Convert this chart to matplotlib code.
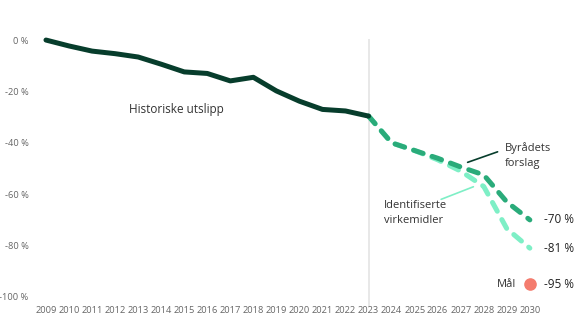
import matplotlib
matplotlib.use("Agg")
import matplotlib.pyplot as plt

plt.rcParams["font.family"] = ["Open Sans", "DejaVu Sans"]

# historical emissions, change vs 2009 (%)
hist_years = [2009, 2010, 2011, 2012, 2013, 2014, 2015, 2016, 2017, 2018,
              2019, 2020, 2021, 2022, 2023]
hist_vals = [0, -2.3, -4.3, -5.3, -6.6, -9.4, -12.4, -13.0, -15.9, -14.5,
             -19.8, -23.8, -27.0, -27.6, -29.6]

# projections
proj_years = [2023, 2024, 2025, 2026, 2027, 2028, 2029, 2030]
byradet_vals = [-29.6, -40.0, -43.0, -46.0, -49.4, -52.5, -63.0, -70.0]
tiltak_vals = [-29.6, -40.0, -43.0, -46.6, -51.0, -57.0, -73.4, -81.0]

goal_year = 2030
goal_val = -95

c_hist = "#073d2c"
c_byr = "#2aab7a"
c_tilt = "#7eefc6"
c_goal = "#f47c6e"
c_tick = "#666666"
c_text = "#333333"

fig = plt.figure(figsize=(5.8, 3.26), dpi=100)
ax = fig.add_axes([0.0634, 0.0733, 0.866, 0.8196])
ax.set_xlim(2008.6, 2030.4)
ax.set_ylim(-102, 2)

# divider between history and projections
ax.vlines(2023, -104, 0.3, color="#e6e6e6", linewidth=1.3, zorder=0, clip_on=False)

lw = 3.6
ax.plot(proj_years, tiltak_vals, color=c_tilt, linewidth=lw,
        dashes=(2.0, 1.9), dash_capstyle="round", zorder=2)
ax.plot(proj_years, byradet_vals, color=c_byr, linewidth=lw,
        dashes=(2.0, 1.9), dash_capstyle="round", zorder=3)
ax.plot(hist_years, hist_vals, color=c_hist, linewidth=lw,
        solid_capstyle="round", solid_joinstyle="round", zorder=4)
ax.scatter([goal_year], [goal_val], s=65, color=c_goal, zorder=5, clip_on=False)

# end labels
for v in [byradet_vals[-1], tiltak_vals[-1], goal_val]:
    ax.text(2030.6, v, f"{v:.0f} %", fontsize=8.5, color="#222222",
            va="center", ha="left")
ax.text(2029.4, goal_val, "Mål", fontsize=8, color=c_text, va="center", ha="right")

ax.text(2012.6, -27, "Historiske utslipp", fontsize=8.5, color=c_text, va="center")

# series labels with leader lines
ax.text(2028.9, -44.8, "Byrådets\nforslag", fontsize=8, color=c_text,
        va="center", ha="left", linespacing=1.5)
ax.annotate("", xy=(2027.3, -47.6), xytext=(2028.6, -43.5),
            arrowprops=dict(arrowstyle="-", color=c_hist, lw=1.2,
                            shrinkA=0, shrinkB=0))
ax.text(2023.65, -67.5, "Identifiserte\nvirkemidler", fontsize=8, color=c_text,
        va="center", ha="left", linespacing=1.5)
ax.annotate("", xy=(2027.55, -57.1), xytext=(2026.15, -62.0),
            arrowprops=dict(arrowstyle="-", color=c_tilt, lw=1.2,
                            shrinkA=0, shrinkB=0))

ax.set_xticks(range(2009, 2031))
ax.set_xticklabels([str(y) for y in range(2009, 2031)])
ax.set_yticks([0, -20, -40, -60, -80, -100])
ax.set_yticklabels([f"{v} %" for v in [0, -20, -40, -60, -80, -100]])
ax.tick_params(axis="both", length=0, labelsize=6.7, colors=c_tick)
ax.tick_params(axis="x", pad=3)
ax.tick_params(axis="y", pad=6)
for s in ax.spines.values():
    s.set_visible(False)

fig.savefig("out.png", dpi=100)
